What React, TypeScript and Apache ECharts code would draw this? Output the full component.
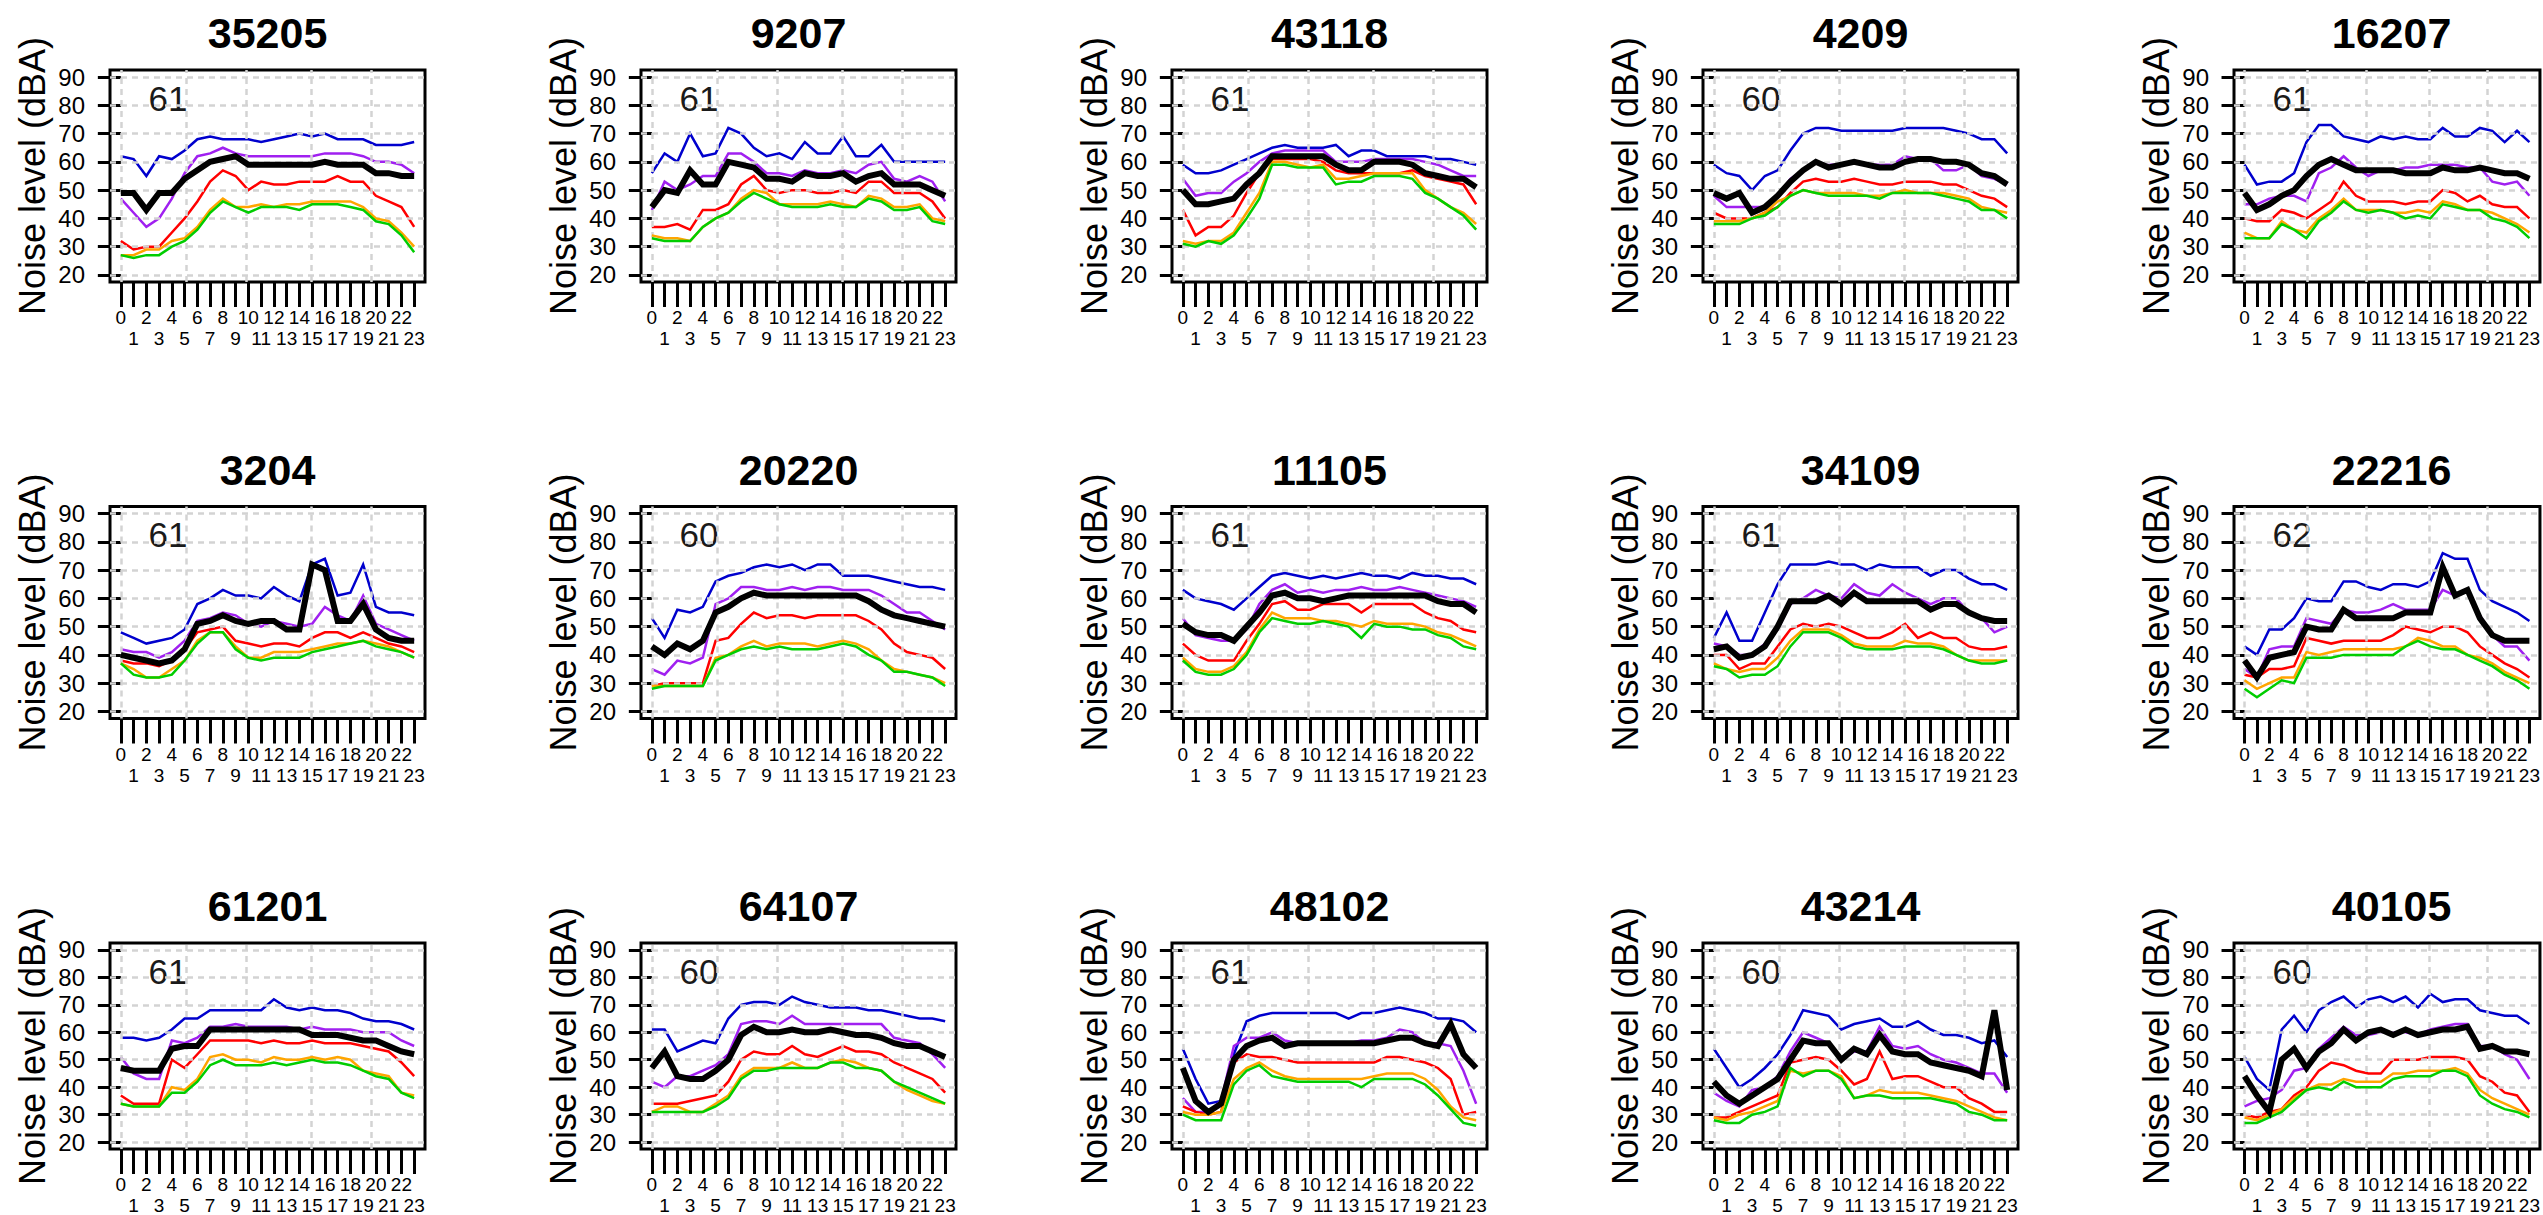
import React, { useEffect, useRef } from "react";
import * as echarts from "echarts";

// ---------- data ----------
const HOURS = [0, 1, 2, 3, 4, 5, 6, 7, 8, 9, 10, 11, 12, 13, 14, 15, 16, 17, 18, 19, 20, 21, 22, 23];
// hour labels, drawn on two staggered rows (even hours on the first row, odd hours on the second)
const X_LABELS = ["0", "1", "2", "3", "4", "5", "6", "7", "8", "9", "10", "11", "12", "13", "14", "15", "16", "17", "18", "19", "20", "21", "22", "23"];
const EVEN_HOURS = [0, 2, 4, 6, 8, 10, 12, 14, 16, 18, 20, 22];
const ODD_HOURS = [1, 3, 5, 7, 9, 11, 13, 15, 17, 19, 21, 23];
const Y_TICKS = [20, 30, 40, 50, 60, 70, 80, 90];
const V_GRID = [0, 5.1, 9.84, 14.95, 19.63];

const TITLES = ["35205", "9207", "43118", "4209", "16207", "3204", "20220", "11105", "34109", "22216", "61201", "64107", "48102", "43214", "40105"];
const NOTES = ["61", "61", "61", "60", "61", "61", "60", "61", "61", "62", "61", "60", "61", "60", "60"];

// one row per panel, in TITLES order
const BLUE = [
  [62, 61, 55, 62, 61, 64, 68, 69, 68, 68, 68, 67, 68, 69, 70, 69, 70, 68, 68, 68, 66, 66, 66, 67],
  [56, 63, 60, 70, 62, 63, 72, 70, 65, 62, 63, 61, 67, 63, 63, 69, 62, 62, 66, 60, 60, 60, 60, 60],
  [59, 56, 56, 57, 59, 61, 63, 65, 66, 65, 65, 65, 66, 62, 64, 64, 62, 62, 62, 62, 61, 61, 60, 59],
  [59, 56, 55, 50, 55, 57, 64, 70, 72, 72, 71, 71, 71, 71, 71, 72, 72, 72, 72, 71, 70, 68, 68, 63],
  [59, 52, 53, 53, 56, 67, 73, 73, 69, 68, 67, 69, 68, 69, 68, 68, 72, 69, 69, 72, 71, 67, 71, 67],
  [48, 46, 44, 45, 46, 49, 58, 60, 63, 61, 61, 60, 64, 61, 59, 72, 74, 61, 62, 72, 57, 55, 55, 54],
  [53, 46, 56, 55, 57, 66, 68, 69, 71, 72, 71, 72, 70, 72, 72, 68, 68, 68, 67, 66, 65, 64, 64, 63],
  [63, 60, 59, 58, 56, 60, 64, 68, 69, 68, 67, 68, 67, 68, 69, 68, 68, 67, 69, 68, 68, 67, 67, 65],
  [46, 55, 45, 45, 55, 65, 72, 72, 72, 73, 72, 72, 70, 72, 71, 71, 71, 68, 70, 70, 67, 65, 65, 63],
  [43, 40, 49, 49, 53, 60, 59, 59, 66, 66, 64, 63, 65, 65, 64, 66, 76, 74, 74, 63, 59, 57, 55, 52],
  [58, 58, 57, 58, 61, 65, 65, 68, 68, 68, 68, 68, 72, 69, 68, 69, 68, 68, 67, 65, 64, 64, 63, 61],
  [61, 61, 53, 55, 57, 56, 65, 70, 71, 71, 70, 73, 71, 70, 69, 69, 69, 68, 68, 67, 66, 65, 65, 64],
  [54, 43, 34, 35, 52, 64, 66, 67, 67, 67, 67, 67, 67, 65, 67, 67, 68, 69, 68, 67, 65, 65, 64, 60],
  [54, 47, 40, 43, 47, 52, 59, 68, 67, 66, 61, 63, 64, 65, 62, 62, 64, 61, 59, 59, 58, 56, 57, 51],
  [51, 43, 39, 61, 66, 60, 68, 71, 73, 69, 72, 73, 71, 73, 69, 74, 71, 72, 72, 68, 67, 66, 66, 63],
];
const PURPLE = [
  [47, 42, 37, 40, 47, 56, 62, 63, 65, 63, 62, 62, 62, 62, 62, 62, 63, 63, 63, 62, 60, 60, 59, 56],
  [43, 53, 50, 52, 55, 55, 63, 63, 60, 56, 56, 55, 57, 56, 56, 57, 56, 59, 60, 54, 53, 55, 53, 46],
  [54, 48, 49, 49, 53, 56, 60, 63, 64, 64, 64, 64, 60, 60, 60, 61, 61, 61, 61, 60, 59, 57, 55, 55],
  [48, 44, 44, 44, 44, 48, 54, 57, 60, 59, 59, 60, 59, 59, 59, 62, 61, 61, 57, 57, 59, 55, 54, 52],
  [45, 45, 47, 48, 48, 46, 56, 58, 62, 58, 55, 57, 57, 58, 58, 59, 59, 59, 58, 58, 53, 52, 53, 48],
  [42, 41, 41, 39, 41, 45, 52, 53, 55, 54, 51, 50, 52, 51, 50, 51, 57, 54, 52, 61, 51, 49, 47, 45],
  [35, 33, 38, 37, 39, 58, 60, 64, 64, 63, 63, 64, 63, 64, 64, 63, 63, 63, 61, 58, 55, 55, 52, 49],
  [53, 47, 46, 45, 45, 49, 58, 63, 65, 62, 63, 62, 63, 63, 64, 63, 63, 64, 63, 62, 61, 60, 59, 57],
  [44, 43, 40, 40, 44, 49, 58, 60, 63, 61, 60, 65, 62, 61, 65, 62, 60, 58, 60, 60, 55, 53, 48, 50],
  [35, 32, 42, 43, 43, 53, 52, 51, 56, 55, 55, 56, 58, 56, 56, 56, 63, 61, 63, 54, 47, 43, 43, 38],
  [51, 45, 43, 43, 57, 56, 58, 62, 62, 63, 62, 62, 62, 62, 61, 62, 61, 61, 61, 60, 60, 60, 57, 55],
  [42, 40, 44, 44, 46, 48, 52, 63, 64, 64, 63, 66, 63, 63, 63, 63, 63, 63, 63, 58, 57, 56, 52, 47],
  [36, 31, 31, 35, 55, 58, 58, 60, 57, 56, 56, 56, 56, 56, 57, 57, 58, 61, 60, 56, 56, 55, 46, 34],
  [38, 35, 33, 39, 40, 44, 53, 60, 58, 56, 50, 53, 53, 62, 55, 54, 55, 52, 50, 49, 47, 45, 45, 38],
  [33, 35, 36, 39, 46, 47, 54, 58, 62, 59, 59, 60, 60, 60, 59, 61, 62, 63, 63, 55, 55, 52, 50, 43],
];
const BLACK = [
  [49, 49, 43, 49, 49, 54, 57, 60, 61, 62, 59, 59, 59, 59, 59, 59, 60, 59, 59, 59, 56, 56, 55, 55],
  [44, 50, 49, 57, 52, 52, 60, 59, 58, 54, 54, 53, 56, 55, 55, 56, 53, 55, 56, 52, 52, 52, 50, 48],
  [50, 45, 45, 46, 47, 52, 56, 62, 62, 62, 62, 62, 59, 57, 57, 60, 60, 60, 59, 56, 55, 54, 54, 51],
  [49, 47, 49, 42, 44, 48, 53, 57, 60, 58, 59, 60, 59, 58, 58, 60, 61, 61, 60, 60, 59, 56, 55, 52],
  [49, 43, 45, 48, 50, 55, 59, 61, 59, 57, 57, 57, 57, 56, 56, 56, 58, 57, 57, 58, 57, 56, 56, 54],
  [40, 39, 38, 37, 38, 42, 51, 52, 54, 52, 51, 52, 52, 49, 49, 72, 70, 52, 52, 58, 49, 46, 45, 45],
  [43, 40, 44, 42, 45, 55, 57, 60, 62, 61, 61, 61, 61, 61, 61, 61, 61, 59, 56, 54, 53, 52, 51, 50],
  [51, 48, 47, 47, 45, 50, 55, 61, 62, 60, 60, 59, 60, 61, 61, 61, 61, 61, 61, 61, 59, 58, 58, 55],
  [42, 43, 39, 40, 43, 50, 59, 59, 59, 61, 58, 62, 59, 59, 59, 59, 59, 56, 58, 58, 55, 53, 52, 52],
  [38, 32, 39, 40, 41, 50, 49, 49, 56, 53, 53, 53, 53, 55, 55, 55, 71, 61, 63, 53, 47, 45, 45, 45],
  [47, 46, 46, 46, 54, 55, 55, 61, 61, 61, 61, 61, 61, 61, 61, 59, 59, 59, 58, 57, 57, 55, 53, 52],
  [47, 53, 44, 43, 43, 46, 50, 59, 62, 60, 60, 61, 60, 60, 61, 60, 59, 59, 58, 56, 55, 55, 53, 51],
  [47, 35, 31, 34, 50, 55, 57, 58, 55, 56, 56, 56, 56, 56, 56, 56, 57, 58, 58, 56, 55, 63, 52, 47],
  [42, 37, 34, 37, 40, 43, 50, 57, 56, 56, 50, 54, 52, 59, 53, 52, 52, 49, 48, 47, 46, 44, 68, 39],
  [44, 37, 31, 50, 54, 47, 53, 56, 61, 57, 60, 61, 59, 61, 59, 60, 61, 61, 62, 54, 55, 53, 53, 52],
];
const RED = [
  [32, 29, 30, 30, 35, 40, 46, 53, 57, 55, 50, 53, 52, 52, 53, 53, 53, 55, 53, 53, 48, 46, 44, 37],
  [37, 37, 38, 36, 43, 43, 45, 52, 55, 50, 49, 50, 50, 49, 49, 50, 49, 53, 53, 49, 49, 49, 46, 40],
  [43, 34, 37, 37, 41, 49, 56, 61, 61, 61, 61, 60, 57, 56, 56, 56, 56, 56, 57, 55, 54, 53, 52, 45],
  [42, 40, 40, 40, 42, 44, 49, 53, 54, 53, 53, 54, 53, 52, 52, 53, 53, 53, 52, 52, 50, 48, 47, 44],
  [40, 39, 39, 43, 42, 40, 43, 46, 53, 48, 46, 46, 46, 45, 46, 46, 50, 49, 46, 48, 45, 44, 44, 40],
  [38, 37, 37, 36, 38, 42, 48, 49, 50, 45, 44, 43, 44, 44, 43, 46, 48, 48, 46, 48, 46, 44, 43, 41],
  [29, 30, 30, 30, 30, 45, 46, 51, 55, 53, 54, 54, 53, 54, 54, 54, 54, 52, 49, 44, 41, 40, 39, 35],
  [44, 40, 38, 38, 38, 45, 51, 58, 59, 56, 56, 58, 58, 58, 55, 58, 58, 58, 58, 55, 53, 52, 49, 48],
  [40, 40, 35, 37, 37, 43, 49, 51, 50, 51, 50, 48, 46, 46, 48, 51, 46, 48, 46, 46, 43, 42, 42, 43],
  [33, 32, 35, 35, 36, 46, 45, 44, 45, 45, 45, 45, 47, 50, 49, 48, 50, 50, 48, 43, 40, 37, 35, 32],
  [37, 34, 34, 34, 50, 47, 52, 57, 57, 57, 57, 56, 57, 56, 56, 57, 56, 56, 56, 55, 54, 53, 49, 44],
  [34, 34, 34, 35, 36, 37, 42, 50, 53, 52, 52, 55, 52, 51, 53, 55, 53, 53, 52, 49, 47, 45, 43, 38],
  [33, 31, 30, 31, 49, 52, 51, 51, 50, 49, 49, 49, 49, 49, 49, 49, 51, 51, 50, 49, 47, 43, 30, 31],
  [29, 29, 31, 33, 35, 37, 49, 50, 51, 50, 46, 41, 43, 53, 43, 44, 44, 42, 40, 40, 36, 34, 31, 31],
  [30, 29, 31, 32, 37, 40, 46, 49, 48, 46, 45, 45, 50, 50, 50, 51, 51, 51, 50, 44, 42, 38, 37, 31],
];
const ORANGE = [
  [27, 27, 29, 29, 32, 33, 37, 43, 47, 44, 44, 45, 44, 45, 45, 46, 46, 46, 46, 44, 40, 39, 35, 30],
  [34, 33, 33, 32, 37, 40, 42, 47, 50, 49, 45, 45, 45, 45, 46, 45, 44, 48, 47, 44, 44, 45, 40, 39],
  [32, 31, 32, 32, 35, 42, 49, 60, 60, 59, 58, 59, 54, 54, 55, 56, 56, 56, 56, 50, 47, 44, 42, 38],
  [39, 39, 39, 40, 42, 46, 48, 50, 49, 49, 49, 49, 48, 48, 49, 50, 49, 49, 49, 48, 47, 44, 43, 42],
  [35, 33, 33, 39, 36, 35, 40, 43, 47, 43, 43, 43, 42, 42, 43, 42, 46, 45, 43, 43, 42, 40, 38, 35],
  [37, 35, 32, 32, 35, 38, 45, 48, 48, 43, 39, 39, 41, 41, 41, 42, 43, 44, 44, 45, 44, 43, 41, 39],
  [29, 29, 29, 29, 29, 39, 40, 43, 45, 43, 44, 44, 44, 43, 44, 45, 44, 42, 38, 35, 34, 33, 32, 30],
  [39, 35, 34, 34, 36, 41, 49, 55, 53, 53, 53, 52, 52, 51, 50, 52, 51, 51, 51, 50, 48, 47, 45, 43],
  [37, 35, 34, 35, 35, 39, 45, 49, 49, 49, 47, 44, 43, 43, 43, 45, 44, 44, 43, 40, 38, 38, 38, 38],
  [31, 28, 30, 32, 32, 41, 40, 41, 42, 42, 42, 42, 42, 43, 46, 45, 43, 43, 40, 39, 37, 34, 32, 30],
  [34, 33, 33, 33, 40, 39, 43, 51, 52, 50, 50, 49, 51, 50, 50, 51, 50, 51, 50, 46, 45, 44, 38, 37],
  [31, 33, 33, 31, 31, 34, 37, 44, 47, 47, 47, 49, 47, 47, 49, 50, 49, 47, 46, 42, 39, 37, 35, 34],
  [31, 30, 30, 31, 43, 47, 49, 46, 44, 43, 43, 43, 43, 43, 43, 44, 45, 45, 45, 43, 39, 33, 29, 28],
  [29, 28, 30, 31, 33, 35, 46, 45, 46, 46, 44, 36, 37, 39, 38, 38, 38, 37, 36, 35, 33, 31, 29, 28],
  [29, 28, 30, 32, 36, 39, 41, 41, 43, 42, 42, 42, 45, 45, 46, 46, 46, 47, 45, 39, 36, 34, 32, 30],
];
const GREEN = [
  [27, 26, 27, 27, 30, 32, 36, 42, 46, 44, 42, 44, 44, 44, 43, 45, 45, 45, 44, 43, 39, 38, 34, 28],
  [33, 32, 32, 32, 37, 40, 42, 46, 49, 47, 45, 44, 44, 44, 45, 44, 44, 47, 46, 43, 43, 44, 39, 38],
  [31, 30, 32, 31, 34, 40, 47, 59, 59, 58, 58, 58, 52, 53, 53, 55, 55, 55, 54, 49, 47, 44, 41, 36],
  [38, 38, 38, 40, 41, 44, 48, 50, 49, 48, 48, 48, 48, 47, 49, 49, 49, 49, 48, 47, 46, 43, 43, 40],
  [33, 33, 33, 38, 36, 33, 39, 42, 46, 43, 42, 43, 42, 40, 41, 40, 45, 44, 43, 43, 40, 39, 37, 33],
  [37, 33, 32, 32, 33, 38, 44, 48, 48, 42, 39, 38, 39, 39, 39, 41, 42, 43, 44, 45, 43, 42, 41, 39],
  [28, 29, 29, 29, 29, 38, 40, 42, 43, 42, 43, 42, 42, 42, 43, 44, 43, 40, 38, 34, 34, 33, 32, 29],
  [38, 34, 33, 33, 35, 40, 48, 53, 52, 51, 51, 52, 51, 50, 46, 51, 50, 50, 49, 49, 47, 46, 43, 42],
  [36, 35, 32, 33, 33, 36, 43, 48, 48, 48, 46, 43, 42, 42, 42, 43, 43, 43, 42, 40, 38, 37, 37, 38],
  [28, 25, 28, 31, 30, 39, 39, 39, 40, 40, 40, 40, 40, 43, 45, 43, 42, 42, 40, 38, 36, 33, 31, 28],
  [34, 33, 33, 33, 38, 38, 42, 48, 50, 48, 48, 48, 49, 48, 49, 50, 49, 49, 48, 46, 44, 43, 38, 36],
  [31, 31, 31, 31, 31, 33, 36, 43, 46, 46, 47, 47, 47, 47, 49, 49, 47, 47, 46, 42, 40, 38, 36, 34],
  [30, 28, 28, 28, 41, 46, 48, 44, 43, 42, 42, 42, 42, 42, 40, 43, 43, 43, 43, 41, 37, 32, 27, 26],
  [28, 27, 27, 30, 31, 33, 47, 44, 46, 46, 43, 36, 37, 37, 36, 36, 36, 36, 35, 34, 31, 30, 28, 28],
  [27, 27, 29, 31, 35, 39, 40, 39, 42, 40, 40, 40, 43, 44, 44, 44, 46, 46, 44, 37, 34, 32, 31, 29],
];

// ---------- layout / style ----------
const COL_LEFT = [110, 641, 1172, 1703, 2234];
const ROW_TOP = [70, 506.5, 943];
const FRAME_W = 315;
const FRAME_H = 212;
const X_MIN = -0.85;
const X_MAX = 23.85;
const FONT = '"Liberation Sans", Arial, sans-serif';

const SERIES_DEF = [
  { name: "blue", rows: BLUE, color: "#0000CD", width: 2.5 },
  { name: "purple", rows: PURPLE, color: "#A020F0", width: 2.5 },
  { name: "red", rows: RED, color: "#FF0000", width: 2.5 },
  { name: "orange", rows: ORANGE, color: "#FFA500", width: 2.5 },
  { name: "green", rows: GREEN, color: "#00CD00", width: 2.5 },
  { name: "black", rows: BLACK, color: "#000000", width: 6 },
];

function buildOption() {
  const grid: any[] = [];
  const xAxis: any[] = [];
  const yAxis: any[] = [];
  const series: any[] = [];
  const graphic: any[] = [];

  const hourFmt = (v: number) => X_LABELS[Math.round(v)] ?? "";

  TITLES.forEach((title, k) => {
    const r = Math.floor(k / 5);
    const c = k % 5;
    const left = COL_LEFT[c];
    const top = ROW_TOP[r];

    grid.push({
      left,
      top,
      width: FRAME_W,
      height: FRAME_H,
      show: true,
      borderColor: "#000",
      borderWidth: 3,
      backgroundColor: "transparent",
    });

    // main x axis: ticks for every hour, labels for even hours (first row)
    xAxis.push({
      type: "value",
      gridIndex: k,
      position: "bottom",
      min: X_MIN,
      max: X_MAX,
      axisLine: { show: false },
      splitLine: { show: false },
      axisTick: {
        show: true,
        customValues: HOURS,
        length: 25,
        lineStyle: { color: "#000", width: 3 },
      },
      axisLabel: {
        show: true,
        customValues: EVEN_HOURS,
        formatter: hourFmt,
        fontSize: 19,
        fontFamily: FONT,
        color: "#000",
        margin: 26,
      },
    });
    // secondary x axis on the same grid: labels for odd hours (second row)
    xAxis.push({
      type: "value",
      gridIndex: k,
      position: "bottom",
      offset: 0,
      min: X_MIN,
      max: X_MAX,
      axisLine: { show: false },
      splitLine: { show: false },
      axisTick: { show: false },
      axisLabel: {
        show: true,
        customValues: ODD_HOURS,
        formatter: hourFmt,
        fontSize: 19,
        fontFamily: FONT,
        color: "#000",
        margin: 47,
      },
    });

    yAxis.push({
      type: "value",
      gridIndex: k,
      min: 17.5,
      max: 92.5,
      name: "Noise level (dBA)",
      nameLocation: "middle",
      nameRotate: 90,
      nameGap: 60,
      nameTextStyle: { fontSize: 36, fontFamily: FONT, color: "#000" },
      axisLine: { show: false },
      splitLine: { show: false },
      axisTick: {
        show: true,
        customValues: Y_TICKS,
        length: 23,
        lineStyle: { color: "#000", width: 3 },
      },
      axisLabel: {
        show: true,
        customValues: Y_TICKS,
        fontSize: 24,
        fontFamily: FONT,
        color: "#000",
        margin: 25,
      },
    });

    const xi = 2 * k;

    // dashed background grid
    series.push({
      type: "line",
      name: "grid" + k,
      xAxisIndex: xi,
      yAxisIndex: k,
      data: [],
      silent: true,
      z: 1,
      markLine: {
        silent: true,
        symbol: ["none", "none"],
        label: { show: false },
        animation: false,
        lineStyle: { color: "#d3d3d3", type: [6, 5], width: 2.5 },
        data: [
          ...Y_TICKS.map((v) => ({ yAxis: v })),
          ...V_GRID.map((v) => ({ xAxis: v })),
        ],
      },
    });

    SERIES_DEF.forEach((s, si) => {
      const vals = s.rows[k];
      series.push({
        type: "line",
        name: s.name,
        xAxisIndex: xi,
        yAxisIndex: k,
        data: HOURS.map((h, i) => [h, vals[i]]),
        showSymbol: false,
        symbol: "none",
        silent: true,
        z: 2 + si,
        lineStyle: { color: s.color, width: s.width, cap: "butt", join: "miter" },
        itemStyle: { color: s.color },
      });
    });

    graphic.push({
      type: "text",
      x: left + FRAME_W / 2,
      y: top - 37,
      silent: true,
      style: {
        text: title,
        font: `bold 43px ${FONT}`,
        fill: "#000",
        align: "center",
        verticalAlign: "middle",
        textAlign: "center",
        textVerticalAlign: "middle",
      },
    });

    graphic.push({
      type: "text",
      x: left + 58,
      y: top + 28,
      silent: true,
      style: {
        text: NOTES[k],
        font: `35px ${FONT}`,
        fill: "#1a1a1a",
        align: "center",
        verticalAlign: "middle",
        textAlign: "center",
        textVerticalAlign: "middle",
      },
    });
  });

  return {
    animation: false,
    backgroundColor: "#ffffff",
    grid,
    xAxis,
    yAxis,
    series,
    graphic,
  };
}

export default function App() {
  const ref = useRef<HTMLDivElement>(null);
  useEffect(() => {
    if (!ref.current) return;
    const chart = echarts.init(ref.current, undefined, { renderer: "svg" });
    chart.setOption(buildOption() as any);
    return () => chart.dispose();
  }, []);
  return (
    <div
      ref={ref}
      style={{ position: "fixed", left: 0, top: 0, width: 2543, height: 1215, background: "#fff" }}
    />
  );
}
